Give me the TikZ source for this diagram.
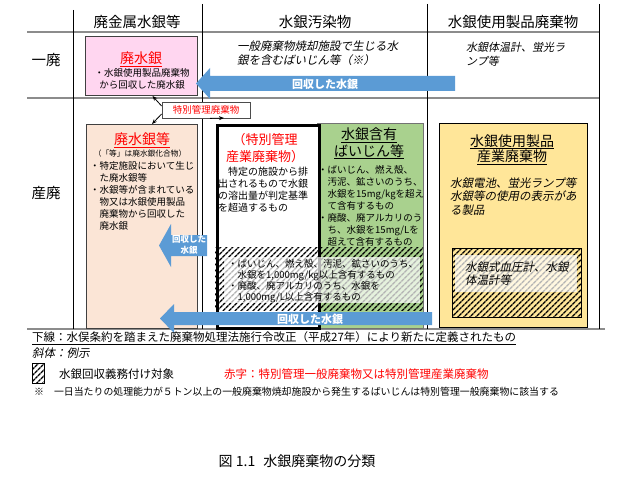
\documentclass[tikz,border=0pt]{standalone}
\usepackage{fontspec}
\setmainfont{Noto Sans CJK JP}
\newfontfamily\jpit[FakeSlant=0.2]{Noto Sans CJK JP}
\usetikzlibrary{patterns.meta,arrows.meta}
\definecolor{pinkfill}{RGB}{255,214,240}
\definecolor{peachfill}{RGB}{251,229,214}
\definecolor{greenfill}{RGB}{169,209,142}
\definecolor{yellowfill}{RGB}{255,230,153}
\definecolor{arrowblue}{RGB}{91,155,213}
\definecolor{gridgray}{RGB}{140,140,140}
\tikzset{box/.style={draw=black!75,line width=1pt,anchor=north west,inner sep=0pt},
         body/.style={font=\fontsize{9.5}{12}\selectfont,align=left,anchor=north west,inner sep=0pt},
         ctitle/.style={font=\fontsize{14}{16.5}\selectfont,align=center,inner sep=0pt},
         head/.style={font=\fontsize{14.5}{17}\selectfont,inner sep=0pt},
         example/.style={font=\jpit\fontsize{11.5}{14}\selectfont,align=left,anchor=north west,inner sep=0pt},
         arrowtext/.style={text=white,font=\bfseries\fontsize{11}{13}\selectfont,inner sep=0pt,align=center},
         hatch/.style={pattern={Lines[angle=45,distance=4pt,line width=1.4pt]}},
         fade/.style={fill=white,fill opacity=0.7},
         blockarrow/.style={fill=arrowblue},
         callarrow/.style={draw,line width=0.8pt,-{Stealth[length=5pt,width=4pt]}},
         legend/.style={font=\fontsize{11.5}{14}\selectfont,anchor=west,inner sep=0pt}
         }

\begin{document}
\begin{tikzpicture}[x=1pt,y=-1pt]
\useasboundingbox (0,0) rectangle (620,476);

% table lines
\draw[gridgray,line width=1.8pt] (27,32) -- (599,32);
\draw[gridgray,line width=1.5pt] (27,98) -- (599,98);
\draw[gridgray,line width=1.8pt] (27,329) -- (605,329);
\foreach \x/\y in {73/10,202/4,427/4,599/4}
  \draw[line width=0.9pt] (\x,\y) -- (\x,329);

\node[head] (h1) at (137,22) {廃金属水銀等};
\node[head] (h2) at (315,22) {水銀汚染物};
\node[head] (h3) at (513,22) {水銀使用製品廃棄物};
\node[head] (r1) at (46,60) {一廃};
\node[head] (r2) at (46,193) {産廃};

% ippai row
\node[box,fill=pinkfill,minimum width=112,minimum height=59] (haisuigin) at (85,36) {};
\node[ctitle,text=red] (haisuigint) at (141,59) {\underline{廃水銀}};
\node[body,anchor=center,align=center] (haisuiginb) at (142,79) {・水銀使用製品廃棄物\\から回収した廃水銀};
\node[example] (osen1) at (237,41) {一般廃棄物焼却施設で生じる水\\銀を含むばいじん等（※）};
\node[example,font=\jpit\fontsize{11}{13.5}\selectfont] (seihin1) at (466,42.5) {水銀体温計、蛍光ラ\\ンプ等};

\fill[blockarrow] (455,76) -- (210,76) -- (210,68) -- (196,83.5) -- (210,99) -- (210,91) -- (455,91) -- cycle;
\node[arrowtext] (kaishu1) at (325,84) {回収した水銀};

% sanpai row
\node[box,fill=peachfill,minimum width=111,minimum height=204] (haisuigin2) at (86,124) {};
\node[ctitle,text=red] (haisuigin2t) at (142,140) {\underline{廃水銀等}};
\node[inner sep=0pt,font=\fontsize{7.7}{9}\selectfont] (haisuigin2n) at (140,154) {（「等」は廃水銀化合物）};
\node[body] (haisuigin2b) at (90,161.2) {・特定施設において生じ\\　た廃水銀等\\・水銀等が含まれている\\　物又は水銀使用製品\\　廃棄物から回収した\\　廃水銀};

\node[box,draw=black!55,fill=greenfill,minimum width=106,minimum height=205] (ganyu) at (317,123) {};
\node[box,draw=black,line width=2.5pt,fill=white,minimum width=102,minimum height=203] (tokkansan) at (216,124) {};
\node[ctitle,text=red,font=\fontsize{13}{17}\selectfont] (tokkansant) at (265,148.5) {（特別管理\\産業廃棄物）};
\node[body,font=\fontsize{10}{12}\selectfont] (tokkansanb) at (218,167) {　特定の施設から排\\出されるもので水銀\\の溶出量が判定基準\\を超過するもの};
\node[ctitle] (ganyut) at (369,143.5) {\underline{水銀含有}\\\underline{ばいじん等}};
\node[body] (ganyub) at (318,165.2) {・ばいじん、燃え殻、\\　汚泥、鉱さいのうち、\\　水銀を15mg/kgを超え\\　て含有するもの\\・廃酸、廃アルカリのう\\　ち、水銀を15mg/Lを\\　超えて含有するもの};

\fill[hatch] (215,247) rectangle (423,310);
\fill[fade] (224,257) rectangle (420,303);
\node[body,font=\fontsize{9.5}{11}\selectfont] (gimu1) at (228,259.2) {・ばいじん、燃え殻、汚泥、鉱さいのうち、\\　水銀を1,000mg/kg以上含有するもの\\・廃酸、廃アルカリのうち、水銀を\\　1,000mg/L以上含有するもの};

\node[box,draw=black,fill=yellowfill,minimum width=148,minimum height=204] (seihin2) at (439,123) {};
\node[ctitle,font=\fontsize{14}{15.5}\selectfont] (seihin2t) at (512,149.5) {\underline{水銀使用製品}\\\underline{産業廃棄物}};
\node[example,font=\jpit\fontsize{11.5}{13.5}\selectfont] (seihin2b) at (450,177.3) {水銀電池、蛍光ランプ等\\水銀等の使用の表示があ\\る製品};
\draw[hatch,line width=0.8pt] (452,248) rectangle (581,317);
\fill[fade] (455,255) rectangle (577,292);
\node[example,font=\jpit\fontsize{11.5}{13}\selectfont] (gimu2) at (465,261.3) {水銀式血圧計、水銀\\体温計等};

\fill[blockarrow] (207,235) -- (171,235) -- (171,224) -- (159,245.5) -- (171,267) -- (171,256) -- (207,256) -- cycle;
\node[arrowtext,font=\bfseries\fontsize{8.5}{11}\selectfont] (kaishu2) at (189,245) {回収した\\水銀};
\fill[blockarrow] (432,312) -- (174,312) -- (174,304) -- (160,318.5) -- (174,333) -- (174,325) -- (432,325) -- cycle;
\node[arrowtext] (kaishu3) at (310,319) {回収した水銀};

% callout
\node[draw=black!70,line width=0.8pt,fill=white,text=red,font=\fontsize{9.5}{11}\selectfont,minimum width=88,minimum height=16,inner sep=0pt] (tokkan) at (206,110) {特別管理廃棄物};
\draw[callarrow] ([yshift=4]tokkan.west) -- ([xshift=11]haisuigin.south);
\draw[callarrow] ([yshift=-4]tokkan.west) -- ([xshift=10]haisuigin2.north);
\draw[callarrow] ([xshift=4]tokkan.south) -- ([shift={(8,-6)}]tokkansan.north west);

% legend
\node[legend] (kasen) at (32,338) {\underline{下線：水俣条約を踏まえた廃棄物処理法施行令改正（平成27年）により新たに定義されたもの}};
\node[legend,font=\jpit\fontsize{11.5}{14}\selectfont] (shatai) at (32,353) {斜体：例示};
\draw[hatch,line width=0.6pt] (32,363) rectangle (44,383);
\node[legend] (gimu) at (59,374) {水銀回収義務付け対象};
\node[legend,text=red] (akaji) at (224,374) {赤字：特別管理一般廃棄物又は特別管理産業廃棄物};
\node[legend,font=\fontsize{9.9}{12}\selectfont] (kome) at (34,392) {※　一日当たりの処理能力が５トン以上の一般廃棄物焼却施設から発生するばいじんは特別管理一般廃棄物に該当する};

\node[font=\fontsize{14}{16}\selectfont,inner sep=0pt] (caption) at (297,461) {図 1.1\hspace{8pt}水銀廃棄物の分類};
\end{tikzpicture}
\end{document}
